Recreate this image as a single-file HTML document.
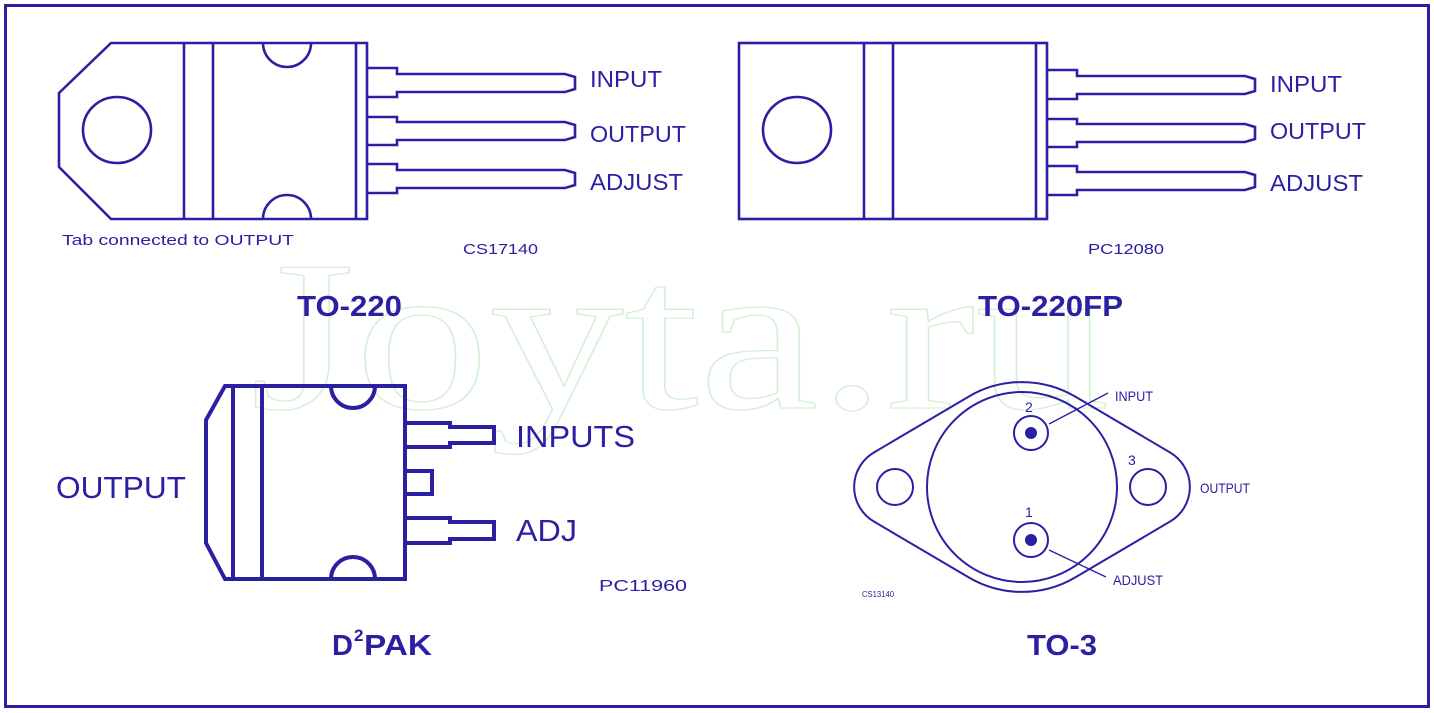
<!DOCTYPE html>
<html><head><meta charset="utf-8"><style>
html,body{margin:0;padding:0;background:#fff;}
svg{display:block;}
text{font-family:"Liberation Sans",sans-serif;fill:#2b20a3;}
</style></head><body>
<svg width="1434" height="713" viewBox="0 0 1434 713" xmlns="http://www.w3.org/2000/svg">
<rect x="0" y="0" width="1434" height="713" fill="#fff"/>
<!-- watermark -->
<text x="250" y="408" font-size="215" textLength="860" lengthAdjust="spacingAndGlyphs" style="fill:none;stroke:#d3f0d3;stroke-width:1.3;font-family:'Liberation Serif',serif">Joyta.ru</text>
<rect x="5.5" y="5.5" width="1423" height="701" fill="none" stroke="#2b20a3" stroke-width="3"/>

<g fill="none" stroke="#2b20a3" stroke-width="2.6">
<!-- TO-220 -->
<path d="M111,43 L367,43 L367,219 L111,219 L59,167 L59,93 Z"/>
<line x1="184" y1="43" x2="184" y2="219"/>
<line x1="213" y1="43" x2="213" y2="219"/>
<line x1="356" y1="43" x2="356" y2="219"/>
<ellipse cx="117" cy="130" rx="34" ry="33"/>
<path d="M263,43 A24,24 0 0 0 311,43"/>
<path d="M263,219 A24,24 0 0 1 311,219"/>
<path d="M367,68 H397 V74 H565 L575,77 V89 L565,92 H397 V97 H367"/>
<path d="M367,117 H397 V122 H565 L575,125 V137 L565,140 H397 V145 H367"/>
<path d="M367,164 H397 V170 H565 L575,173 V185 L565,188 H397 V193 H367"/>
<!-- TO-220FP -->
<rect x="739" y="43" width="308" height="176"/>
<line x1="864" y1="43" x2="864" y2="219"/>
<line x1="893" y1="43" x2="893" y2="219"/>
<line x1="1036" y1="43" x2="1036" y2="219"/>
<ellipse cx="797" cy="130" rx="34" ry="33"/>
<g transform="translate(680,2)">
<path d="M367,68 H397 V74 H565 L575,77 V89 L565,92 H397 V97 H367"/>
<path d="M367,117 H397 V122 H565 L575,125 V137 L565,140 H397 V145 H367"/>
<path d="M367,164 H397 V170 H565 L575,173 V185 L565,188 H397 V193 H367"/>
</g>
</g>

<!-- D2PAK -->
<g fill="none" stroke="#2b20a3" stroke-width="4">
<path d="M225,386 L405,386 L405,579 L225,579 L206,543 L206,420 Z"/>
<line x1="233" y1="386" x2="233" y2="579"/>
<line x1="262" y1="386" x2="262" y2="579"/>
<path d="M331,386 A22,22 0 0 0 375,386"/>
<path d="M331,579 A22,22 0 0 1 375,579"/>
<path d="M405,423 H450 V427 H494 V443 H450 V447 H405"/>
<path d="M405,471 H432 V494 H405"/>
<path d="M405,518 H450 V522 H494 V539 H450 V543 H405"/>
</g>

<!-- TO-3 -->
<g fill="none" stroke="#2b20a3" stroke-width="2">
<path d="M968.7,396.6 A105,105 0 0 1 1075.3,396.6 L1170.3,452.6 A40,40 0 0 1 1170.3,521.4 L1075.3,577.4 A105,105 0 0 1 968.7,577.4 L873.7,521.4 A40,40 0 0 1 873.7,452.6 Z"/>
<circle cx="1022" cy="487" r="95"/>
<circle cx="895" cy="487" r="18"/>
<circle cx="1148" cy="487" r="18"/>
<circle cx="1031" cy="433" r="17"/>
<circle cx="1031" cy="540" r="17"/>
<line x1="1049" y1="424" x2="1108" y2="393" stroke-width="1.3"/>
<line x1="1049" y1="550" x2="1106" y2="577" stroke-width="1.3"/>
</g>
<circle cx="1031" cy="433" r="6" fill="#2b20a3"/>
<circle cx="1031" cy="540" r="6" fill="#2b20a3"/>

<!-- texts -->
<g font-size="23">
<text x="590" y="87" textLength="72" lengthAdjust="spacingAndGlyphs">INPUT</text>
<text x="590" y="142" textLength="96" lengthAdjust="spacingAndGlyphs">OUTPUT</text>
<text x="590" y="190" textLength="93" lengthAdjust="spacingAndGlyphs">ADJUST</text>
<text x="1270" y="92" textLength="72" lengthAdjust="spacingAndGlyphs">INPUT</text>
<text x="1270" y="139" textLength="96" lengthAdjust="spacingAndGlyphs">OUTPUT</text>
<text x="1270" y="191" textLength="93" lengthAdjust="spacingAndGlyphs">ADJUST</text>
</g>
<text x="62" y="245" font-size="15" textLength="232" lengthAdjust="spacingAndGlyphs">Tab connected to OUTPUT</text>
<text x="463" y="254" font-size="15" textLength="75" lengthAdjust="spacingAndGlyphs">CS17140</text>
<text x="1088" y="254" font-size="15" textLength="76" lengthAdjust="spacingAndGlyphs">PC12080</text>
<text x="599" y="591" font-size="16" textLength="88" lengthAdjust="spacingAndGlyphs">PC11960</text>
<g font-weight="bold" font-size="29">
<text x="297" y="316" textLength="105" lengthAdjust="spacingAndGlyphs">TO-220</text>
<text x="978" y="316" textLength="145" lengthAdjust="spacingAndGlyphs">TO-220FP</text>
<text x="332" y="655">D</text>
<text x="354" y="641" font-size="17">2</text>
<text x="364" y="655" textLength="68" lengthAdjust="spacingAndGlyphs">PAK</text>
<text x="1027" y="655" textLength="70" lengthAdjust="spacingAndGlyphs">TO-3</text>
</g>
<g font-size="31">
<text x="516" y="447" textLength="119" lengthAdjust="spacingAndGlyphs">INPUTS</text>
<text x="516" y="541" textLength="61" lengthAdjust="spacingAndGlyphs">ADJ</text>
<text x="56" y="498" textLength="130" lengthAdjust="spacingAndGlyphs">OUTPUT</text>
</g>
<g font-size="14">
<text x="1115" y="401" textLength="38" lengthAdjust="spacingAndGlyphs">INPUT</text>
<text x="1113" y="585" textLength="50" lengthAdjust="spacingAndGlyphs">ADJUST</text>
<text x="1200" y="493" textLength="50" lengthAdjust="spacingAndGlyphs">OUTPUT</text>
<text x="1025" y="412">2</text>
<text x="1025" y="517">1</text>
<text x="1128" y="465">3</text>
</g>
<text x="862" y="597" font-size="8" textLength="32" lengthAdjust="spacingAndGlyphs">CS13140</text>
</svg>
</body></html>
